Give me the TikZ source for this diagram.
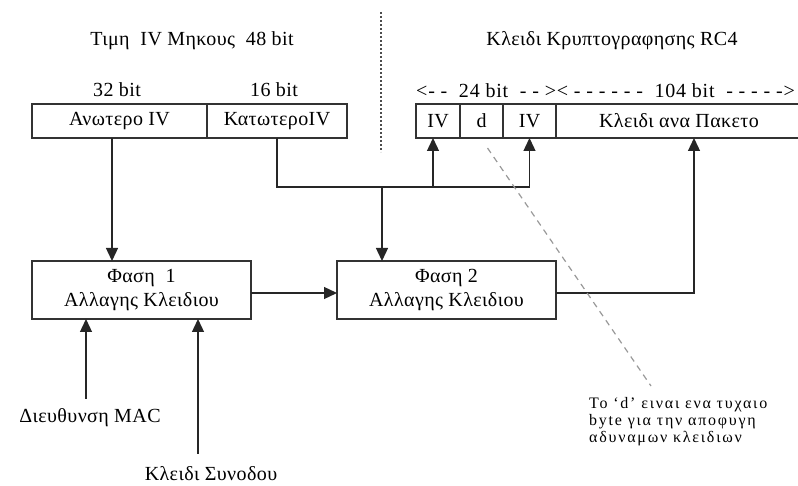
\documentclass[tikz,border=0pt]{standalone}
\usepackage{fontspec}
\setmainfont{Liberation Serif}
\usetikzlibrary{arrows.meta,positioning,calc}
\newfontfamily\keyfamily[LetterSpace=2]{Liberation Serif}
\newfontfamily\bitsfamily[LetterSpace=4]{Liberation Serif}
\newfontfamily\notefamily[LetterSpace=11]{Liberation Serif}
\newcommand{\keyfont}{\keyfamily\fontsize{20}{24}\selectfont}
\newcommand{\notefont}{\notefamily\fontsize{16}{17}\selectfont}
\tikzset{
  keycell/.style={draw=black!80,line width=1.3pt,outer sep=0pt,inner sep=0pt,
    minimum height=34pt,font=\keyfont},
  phasebox/.style={draw=black!80,line width=1.3pt,outer sep=0pt,align=center,
    minimum width=219pt,minimum height=58pt,font=\keyfont},
  keylbl/.style={inner sep=0pt,font=\keyfont},
  notebox/.style={inner sep=0pt,align=left,font=\notefont},
  keyflow/.style={-{Triangle[length=13pt,width=12pt]},line width=1.3pt,black!85},
  notedash/.style={gray!80,line width=1.2pt,dash pattern=on 6pt off 5pt},
  sepdot/.style={black!70,line width=1.2pt,dash pattern=on 2pt off 2pt},
}
\begin{document}
\begin{tikzpicture}[x=1pt,y=-1pt,node distance=0pt]
\clip (0,0) rectangle (798,486);
% titles and divider
\node[keylbl] (ivtitle) at (192,41) {Τιμη~ IV Μηκους~ 48 bit};
\node[keylbl] (rctitle) at (612,41) {Κλειδι Κρυπτογραφησης RC4};
\draw[sepdot] (381,12) -- (381,152);
% IV of 48 bit
\node[keycell,minimum width=175pt] (upIV) at (119.5,121) {Ανωτερο IV};
\node[keycell,minimum width=140pt,right=of upIV] (loIV) {ΚατωτεροIV};
\node[keylbl] (w32) at (117,90) {32 bit};
\node[keylbl] (w16) at (274,90) {16 bit};
% RC4 key
\node[keycell,minimum width=44pt] (iv1) at (438,121) {IV};
\node[keycell,minimum width=43pt,right=of iv1] (dcell) {d};
\node[keycell,minimum width=53pt,right=of dcell] (iv2) {IV};
\node[keycell,minimum width=246pt,right=of iv2] (pkey) {Κλειδι ανα Πακετο};
\node[keylbl,font=\bitsfamily\fontsize{20}{24}\selectfont,anchor=west] (bits) at (416,91)
  {<- -~ 24 bit~ - - >< - - - - - -~ 104 bit~ - - - - ->};
% mixing phases
\node[phasebox] (ph1) at (141.5,290) {Φαση~ 1\\Αλλαγης Κλειδιου};
\node[phasebox,right=86pt of ph1] (ph2) {Φαση 2\\Αλλαγης Κλειδιου};
\node[keylbl] (mac) at (90,418) {Διευθυνση MAC};
\node[keylbl] (skey) at (211,474) {Κλειδι Συνοδου};
\node[notebox,anchor=north west] (note) at (589,397)
  {Το ‘d’ ειναι ενα τυχαιο\\byte για την αποφυγη\\αδυναμων κλειδιων};
% connections
\coordinate (bus) at (382,187);
\draw[keyflow] ([xshift=-7.5pt]upIV.south) -- ([xshift=-7.5pt]upIV.south |- ph1.north);
\draw[keyflow] (loIV.south) |- (bus) -| (iv2.south);
\draw[keyflow] ([xshift=-5pt]iv1.south |- bus) -- ([xshift=-5pt]iv1.south);
\draw[keyflow] (bus) -- (bus |- ph2.north);
\draw[keyflow] ([yshift=-3pt]ph1.east) -- ([yshift=-3pt]ph2.west);
\draw[keyflow] ([yshift=-3pt]ph2.east) -| ([xshift=15pt]pkey.south);
\draw[keyflow] ([xshift=-4pt,yshift=10pt]mac.north) -- ([xshift=-4pt]mac.north |- ph1.south);
\draw[keyflow] ([xshift=-13pt,yshift=13pt]skey.north) -- ([xshift=-13pt]skey.north |- ph1.south);
\coordinate (dend) at (651,386);
\draw[notedash] ([xshift=6pt,yshift=-10pt]dcell.south) -- (dend);
\end{tikzpicture}
\end{document}
